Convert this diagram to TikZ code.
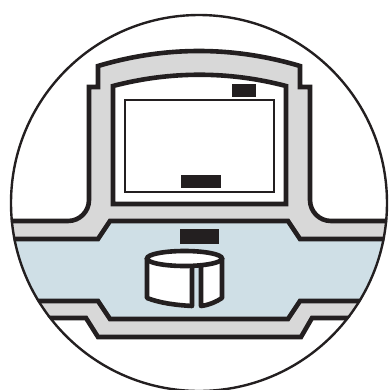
\documentclass[tikz,border=0pt]{standalone}
\usepackage{tikz}
\definecolor{inkblack}{HTML}{231F20}
\definecolor{shellgray}{HTML}{D8D8D8}
\definecolor{waterblue}{HTML}{CFDFE6}

\begin{document}
\begin{tikzpicture}[x=1bp,y=-1bp,
    wall/.style={line width=4.6bp,draw=inkblack},
    thinwall/.style={line width=2.4bp,draw=inkblack},
    slab/.style={fill=inkblack}]
  \useasboundingbox (0,0) rectangle (389,390);
  \coordinate (C) at (199,203);
  \begin{scope}
    \clip (C) circle (189);
    % grey shell and band
    \fill[shellgray] (0,221) -- (68,221) arc[start angle=90,end angle=0,radius=21] -- (89,87) -- (97,87) -- (97,66)
      .. controls (165,46) and (233,46) .. (301,66) -- (301,87) -- (310,87) -- (310,200)
      arc[start angle=180,end angle=90,radius=21] -- (389,221) -- (389,318) -- (312,318) -- (301,337)
      -- (98,337) -- (86,318) -- (0,318) -- cycle;
    % blue channel
    \draw[wall,fill=waterblue] (-5,239) -- (98,239) -- (110,221) -- (288,221) -- (300,239) -- (394,239)
      -- (394,301) -- (300,301) -- (288,319) -- (110,319) -- (98,301) -- (-5,301) -- cycle;
    % outer lines
    \draw[wall] (-5,221) -- (68,221) arc[start angle=90,end angle=0,radius=21] -- (89,87) -- (98,87) -- (98,66)
      .. controls (165,46) and (233,46) .. (300,66) -- (300,87) -- (310,87) -- (310,200)
      arc[start angle=180,end angle=90,radius=21] -- (394,221);
    \draw[wall] (-5,318) -- (86,318) -- (98,337) -- (301,337) -- (312,318) -- (394,318);
  \end{scope}
  % chamber
  \draw[wall,fill=white] (113,86) .. controls (170,71) and (229,71) .. (286,86) -- (286,204) -- (113,204) -- cycle;
  \draw[thinwall] (125,100) rectangle (274,192);
  \fill[slab] (232,84) rectangle (256,97);
  \fill[slab] (181,175) rectangle (221,188);
  \fill[slab] (180,229) rectangle (219,244);
  % drum
  \draw[wall,fill=white,line join=round] (147,258.5) -- (147,298) .. controls (160,303) and (175,305) .. (192,306) -- (192,258.5) -- cycle;
  \draw[wall,fill=white,line join=round] (201,258.5) -- (201,306) .. controls (209,305) and (216,302) .. (222,298) -- (222,258.5) -- cycle;
  \draw[wall,fill=white] (184.5,258.5) ellipse (37.5 and 7.5);
  \draw[thinwall] (C) circle (188);
\end{tikzpicture}
\end{document}
